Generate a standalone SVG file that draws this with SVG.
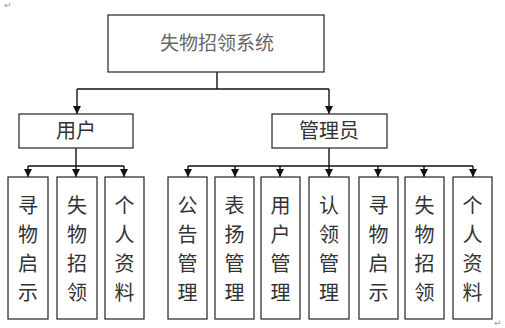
<svg xmlns="http://www.w3.org/2000/svg" width="505" height="328" viewBox="0 0 505 328">
<defs>
<marker id="arr" viewBox="0 0 8 8" refX="8" refY="4" markerWidth="8" markerHeight="8" markerUnits="userSpaceOnUse" orient="auto">
<path d="M0,0 L8,4 L0,8 z" fill="#111"/>
</marker>
<style>
.box{fill:#fff;stroke:#333;stroke-width:1.3}
.t{font-family:"Noto Sans CJK SC","Noto Sans",sans-serif;fill:#333;text-anchor:middle}
.big{font-size:20px}
.title{font-size:19px;fill:#666}
.v{font-size:20px}
.c{fill:none;stroke:#111;stroke-width:1.4}
.m{font-family:"DejaVu Sans",sans-serif;font-size:9px;fill:#999}
</style>
</defs>
<rect width="505" height="328" fill="#fff"/>
<text class="m" x="4" y="8">↵</text>
<text class="m" x="494" y="326">↵</text>
<g id="connectors">
<path class="c" d="M217,72 V89 M77,89 H329"/>
<path class="c" d="M77,89 V114" marker-end="url(#arr)"/>
<path class="c" d="M329,89 V114" marker-end="url(#arr)"/>
<path class="c" d="M76,148 V166 M28,166 H124"/>
<path class="c" d="M28,166 V177" marker-end="url(#arr)"/>
<path class="c" d="M76,166 V177" marker-end="url(#arr)"/>
<path class="c" d="M124,166 V177" marker-end="url(#arr)"/>
<path class="c" d="M329,148 V166 M188,166 H473"/>
<path class="c" d="M188,166 V177" marker-end="url(#arr)"/>
<path class="c" d="M235,166 V177" marker-end="url(#arr)"/>
<path class="c" d="M280,166 V177" marker-end="url(#arr)"/>
<path class="c" d="M329,166 V177" marker-end="url(#arr)"/>
<path class="c" d="M378,166 V177" marker-end="url(#arr)"/>
<path class="c" d="M424,166 V177" marker-end="url(#arr)"/>
<path class="c" d="M473,166 V177" marker-end="url(#arr)"/>
</g>
<g id="root"><rect class="box" x="108" y="15" width="216" height="57"/><text class="t title" x="217" y="50">失物招领系统</text></g>
<g id="user"><rect class="box" x="19" y="114" width="114" height="34"/><text class="t big" x="76" y="138">用户</text></g>
<g id="admin"><rect class="box" x="272" y="114" width="115" height="34"/><text class="t big" x="329" y="138">管理员</text></g>
<g id="u1"><rect class="box" x="8" y="177" width="40" height="142"/><text class="t v" x="28"><tspan x="28" y="213">寻</tspan><tspan x="28" y="242">物</tspan><tspan x="28" y="271">启</tspan><tspan x="28" y="300">示</tspan></text></g>
<g id="u2"><rect class="box" x="57" y="177" width="40" height="142"/><text class="t v" x="77"><tspan x="77" y="213">失</tspan><tspan x="77" y="242">物</tspan><tspan x="77" y="271">招</tspan><tspan x="77" y="300">领</tspan></text></g>
<g id="u3"><rect class="box" x="105" y="177" width="39" height="142"/><text class="t v" x="124.5"><tspan x="124.5" y="213">个</tspan><tspan x="124.5" y="242">人</tspan><tspan x="124.5" y="271">资</tspan><tspan x="124.5" y="300">料</tspan></text></g>
<g id="a1"><rect class="box" x="168" y="177" width="39" height="142"/><text class="t v"><tspan x="187.5" y="213">公</tspan><tspan x="187.5" y="242">告</tspan><tspan x="187.5" y="271">管</tspan><tspan x="187.5" y="300">理</tspan></text></g>
<g id="a2"><rect class="box" x="215" y="177" width="39" height="142"/><text class="t v"><tspan x="234.5" y="213">表</tspan><tspan x="234.5" y="242">扬</tspan><tspan x="234.5" y="271">管</tspan><tspan x="234.5" y="300">理</tspan></text></g>
<g id="a3"><rect class="box" x="261" y="177" width="39" height="142"/><text class="t v"><tspan x="280.5" y="213">用</tspan><tspan x="280.5" y="242">户</tspan><tspan x="280.5" y="271">管</tspan><tspan x="280.5" y="300">理</tspan></text></g>
<g id="a4"><rect class="box" x="309" y="177" width="40" height="142"/><text class="t v"><tspan x="329" y="213">认</tspan><tspan x="329" y="242">领</tspan><tspan x="329" y="271">管</tspan><tspan x="329" y="300">理</tspan></text></g>
<g id="a5"><rect class="box" x="359" y="177" width="39" height="142"/><text class="t v"><tspan x="378.5" y="213">寻</tspan><tspan x="378.5" y="242">物</tspan><tspan x="378.5" y="271">启</tspan><tspan x="378.5" y="300">示</tspan></text></g>
<g id="a6"><rect class="box" x="405" y="177" width="39" height="142"/><text class="t v"><tspan x="424.5" y="213">失</tspan><tspan x="424.5" y="242">物</tspan><tspan x="424.5" y="271">招</tspan><tspan x="424.5" y="300">领</tspan></text></g>
<g id="a7"><rect class="box" x="453" y="177" width="39" height="142"/><text class="t v"><tspan x="472.5" y="213">个</tspan><tspan x="472.5" y="242">人</tspan><tspan x="472.5" y="271">资</tspan><tspan x="472.5" y="300">料</tspan></text></g>
</svg>
